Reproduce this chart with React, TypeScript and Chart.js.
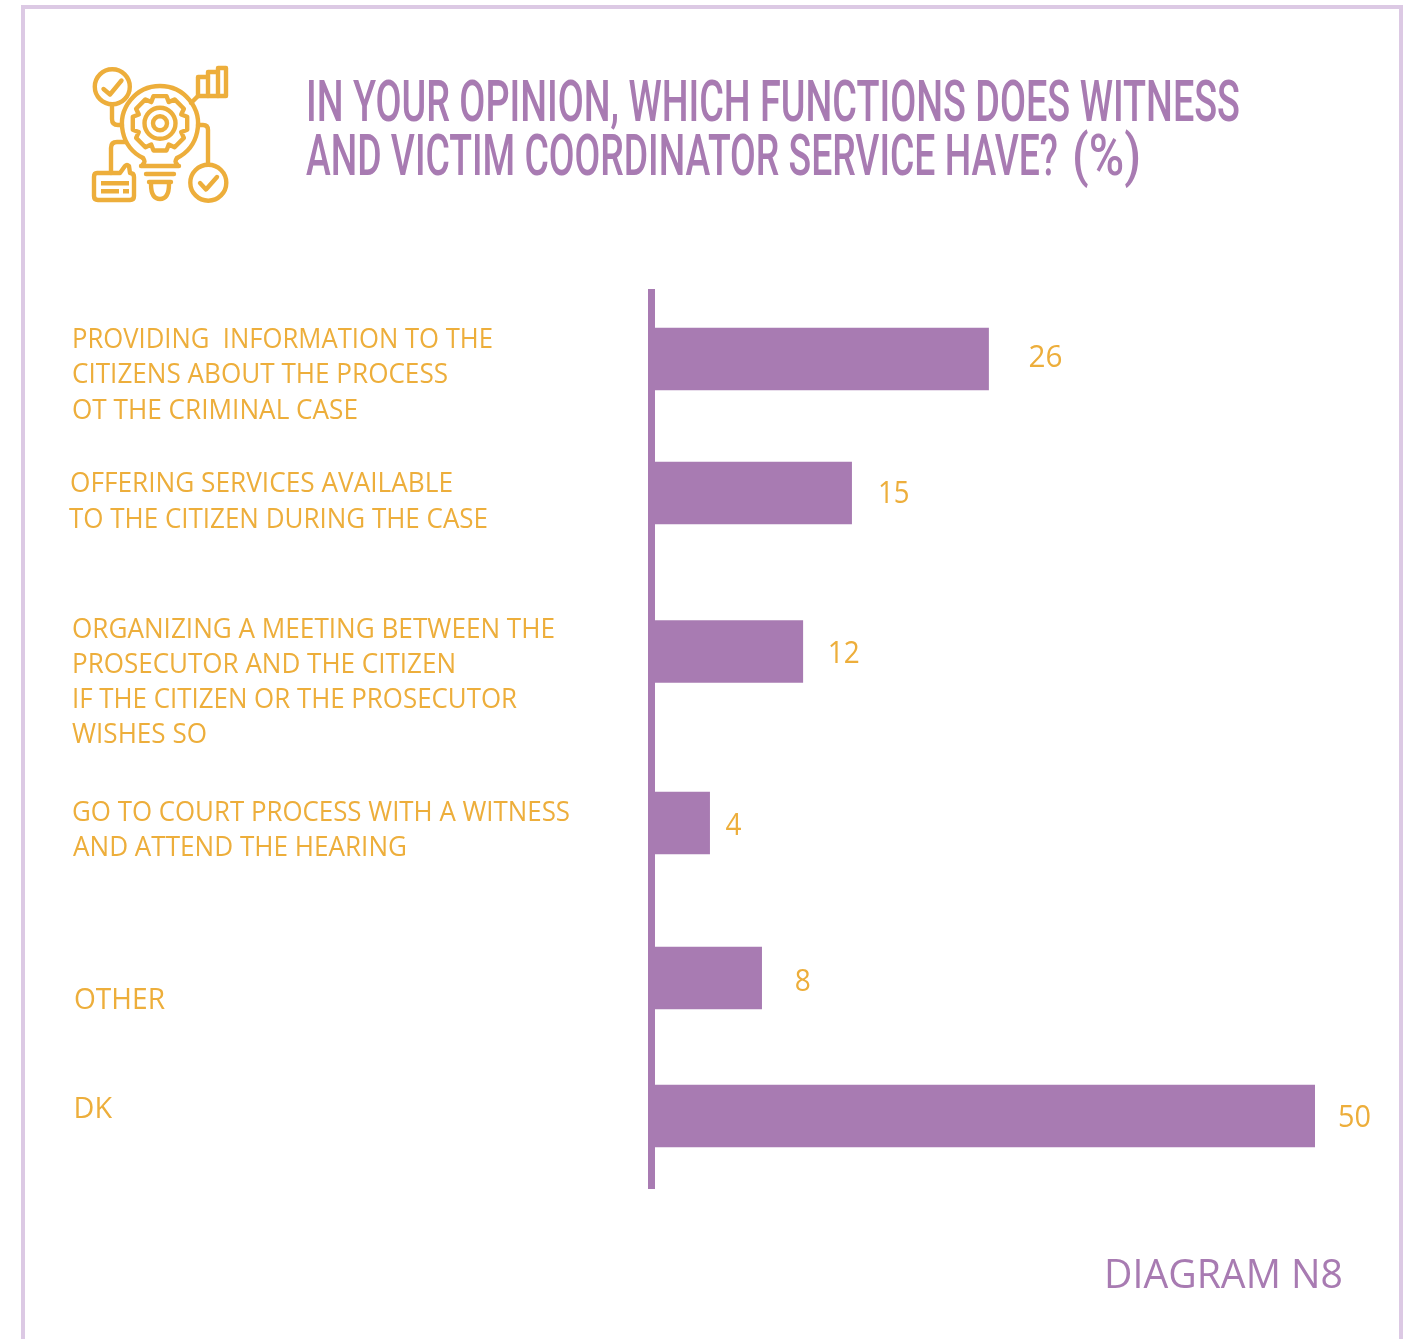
import React, { useEffect, useRef } from "react";
import { Chart, registerables } from "chart.js";

Chart.register(...registerables);

const WIDTH = 1415;
const HEIGHT = 1339;
const PURPLE = "#a87bb2";
const ORANGE = "#edae3b";
const FRAME = "#dcc9e4";

const categories = [
  ["PROVIDING  INFORMATION TO THE", "CITIZENS ABOUT THE PROCESS", "OT THE CRIMINAL CASE"],
  ["OFFERING SERVICES AVAILABLE", "TO THE CITIZEN DURING THE CASE"],
  ["ORGANIZING A MEETING BETWEEN THE", "PROSECUTOR AND THE CITIZEN", "IF THE CITIZEN OR THE PROSECUTOR", "WISHES SO"],
  ["GO TO COURT PROCESS WITH A WITNESS", "AND ATTEND THE HEARING"],
  ["OTHER"],
  ["DK"],
];
// The numbers printed in the reference.
const valueLabels = ["26", "15", "12", "4", "8", "50"];
// Bar lengths, on the same axis: the drawn bars differ slightly from the printed numbers.
const barLengths = [25.4, 15.08, 11.4, 4.38, 8.3, 50];
const titleFragments = ["IN YOUR OPINION, WHICH FUNCTIONS DOES WITNESS", "AND VICTIM COORDINATOR SERVICE HAVE?", "(%)"];
const footerText = "DIAGRAM N8";

// Uneven row spacing of the reference, in y-axis units.
const rowOffsets = [66.5, 200.5, 359, 530.5, 685.5, 823.5];
const AXIS_SPAN = 895.5;

// Text placement: [left, right, baseline] per line.
const categoryPlacement = [
  [[72, 493, 348], [72, 448, 383], [72, 358, 419]],
  [[70, 453, 492], [69, 488, 528]],
  [[72, 555, 638], [72, 456, 673], [72, 517, 708], [72, 207, 743]],
  [[72, 570, 821], [73, 407, 856]],
  [[74, 165, 1009]],
  [[73.5, 112, 1118]],
];
const valuePlacement = [
  [40, 34, 367],
  [26.5, 31.5, 503],
  [25, 32, 663],
  [16, 16, 835],
  [33, 16, 991],
  [23, 33, 1127],
];
const titlePlacement = [
  [306, 1240, 121],
  [306, 1058, 175],
  [1072, 1141, 175],
];

function fitText(ctx, text, left, right, baseline, font, color) {
  ctx.save();
  ctx.font = font;
  ctx.fillStyle = color;
  ctx.textAlign = "left";
  ctx.textBaseline = "alphabetic";
  const natural = ctx.measureText(text).width;
  ctx.translate(left, baseline);
  ctx.scale((right - left) / natural, 1);
  ctx.fillText(text, 0, 0);
  ctx.restore();
}

const textPlugin = {
  id: "referenceText",
  afterDatasetsDraw(chart) {
    const { ctx } = chart;
    const x = chart.scales.x;
    titleFragments.forEach((line, i) => {
      const [l, r, b] = titlePlacement[i];
      fitText(ctx, line, l, r, b, '500 58px "Roboto"', PURPLE);
    });
    categories.forEach((lines, i) => {
      lines.forEach((line, j) => {
        const [l, r, b] = categoryPlacement[i][j];
        const size = lines.length === 1 ? 29 : 27;
        fitText(ctx, line, l, r, b, `${size}px "Open Sans"`, ORANGE);
      });
    });
    valueLabels.forEach((label, i) => {
      const [gap, w, b] = valuePlacement[i];
      const left = x.getPixelForValue(barLengths[i]) + gap;
      fitText(ctx, label, left, left + w, b, '31px "Open Sans"', ORANGE);
    });
    fitText(ctx, footerText, 1104, 1343, 1288, '40px "Open Sans"', PURPLE);
  },
};

function gearPath(cx, cy, teeth, outer, inner) {
  const pts = [];
  const step = (Math.PI * 2) / teeth;
  for (let i = 0; i < teeth; i++) {
    const a = i * step - Math.PI / 2;
    [
      [inner, -0.5],
      [outer, -0.3],
      [outer, 0.3],
      [inner, 0.5],
    ].forEach(([r, k]) => {
      const t = a + k * step;
      pts.push(`${(cx + r * Math.cos(t)).toFixed(1)} ${(cy + r * Math.sin(t)).toFixed(1)}`);
    });
  }
  return "M" + pts.join("L") + "Z";
}

function Decorations() {
  const s = { fill: "none", stroke: ORANGE, strokeWidth: 4.4, strokeLinejoin: "round", strokeLinecap: "round" };
  return (
    <svg
      width={WIDTH}
      height={HEIGHT}
      style={{ position: "absolute", left: 0, top: 0, pointerEvents: "none" }}
    >
      <path d="M23 1339V7H1401V1339" fill="none" stroke={FRAME} strokeWidth={4} />
      <g {...s}>
        <circle cx={112.3} cy={86.7} r={17.5} />
        <path d="M103.5 89L110 94.5L121.5 80.5" />
        <path d="M112 105V119Q112 125 118 125H122" />
        <path d="M198 96L191 103" />
        <path d="M198 96V77H208V72H218V68H226V96Z" />
        <path d="M208 96V77M218 96V72" />
        <path d="M198 125H203Q208 125 208 130V164" />
        <circle cx={208.3} cy={182.7} r={18} />
        <path d="M200 183L206 189.5L217 177" />
        <path d="M111 173V148Q111 142 117 142H126" />
        <path d="M97 173H120L125 166Q127 164 129 166L130 173Q134 173 134 177V196Q134 200 130 200H98Q94 200 94 196V177Q94 173 97 173Z" />
        <path d="M143 158A38 38 0 1 1 177 158" />
        <path d="M143 158Q146 162 143 164M177 158Q174 162 177 164" />
        <path d="M141 166H179M146 174H174M149 182H171" />
        <path d="M151 184Q151 199 160 199Q169 199 169 184" />
        <path d={gearPath(160, 123.3, 8, 28, 23)} />
        <circle cx={160} cy={123.3} r={15.5} />
        <circle cx={160} cy={123.3} r={7} />
      </g>
      <g fill={ORANGE}>
        <rect x={101} y={181} width={28} height={4.5} />
        <rect x={101} y={189} width={18} height={4.5} />
        <rect x={123} y={189} width={6} height={4.5} />
      </g>
    </svg>
  );
}

export default function App() {
  const ref = useRef(null);
  useEffect(() => {
    const chart = new Chart(ref.current, {
      type: "bar",
      data: {
        datasets: [
          {
            data: barLengths.map((v, i) => ({ x: v, y: rowOffsets[i] })),
            backgroundColor: PURPLE,
            barThickness: 62,
            borderWidth: 0,
          },
        ],
      },
      options: {
        indexAxis: "y",
        responsive: false,
        animation: false,
        layout: { padding: { left: 651.5, right: 100, top: 292.5, bottom: 151 } },
        plugins: { legend: { display: false }, tooltip: { enabled: false }, title: { display: false } },
        scales: {
          x: {
            type: "linear",
            min: 0,
            max: 50,
            display: false,
          },
          y: {
            type: "linear",
            reverse: true,
            offset: false,
            min: 0,
            max: AXIS_SPAN,
            grid: { display: false, drawTicks: false, offset: false },
            border: { display: true, color: PURPLE, width: 7 },
            ticks: { display: false },
          },
        },
      },
      plugins: [textPlugin],
    });
    return () => chart.destroy();
  }, []);
  return (
    <div style={{ position: "absolute", left: 0, top: 0, width: WIDTH, height: HEIGHT, overflow: "hidden", background: "#fff" }}>
      <canvas ref={ref} width={WIDTH} height={HEIGHT} style={{ display: "block" }} />
      <Decorations />
    </div>
  );
}
